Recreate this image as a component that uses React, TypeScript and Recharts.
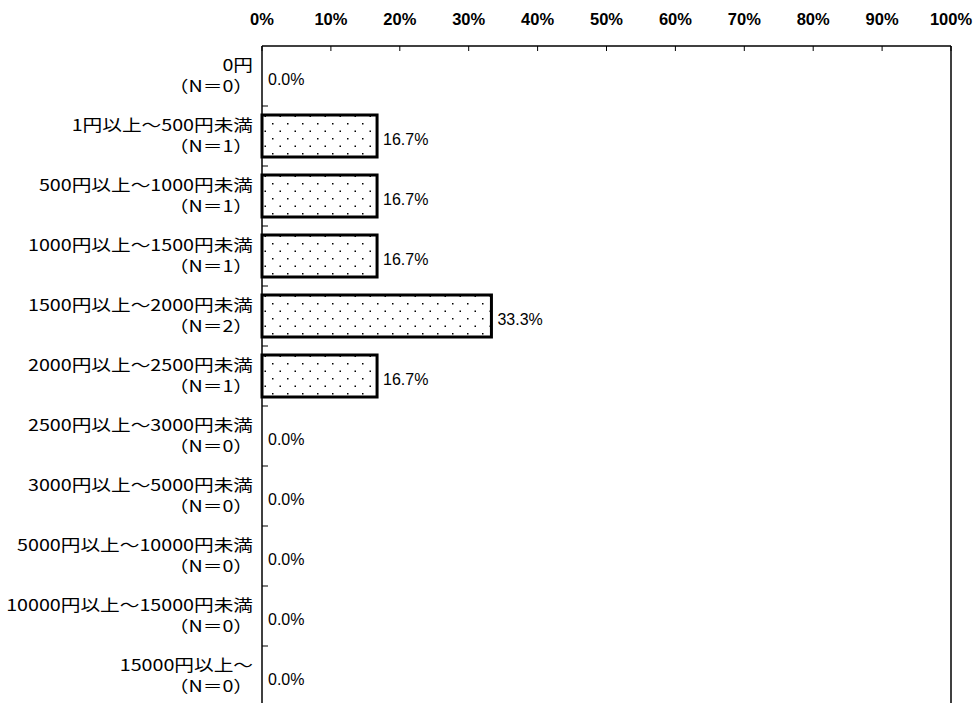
import { ComposedChart, Bar, Line, XAxis, YAxis, LabelList, ReferenceLine } from 'recharts';

// 금액대 카테고리 / 응답자 수 / 비율(%)
const CATEGORIES = [
  '0円',
  '1円以上～500円未満',
  '500円以上～1000円未満',
  '1000円以上～1500円未満',
  '1500円以上～2000円未満',
  '2000円以上～2500円未満',
  '2500円以上～3000円未満',
  '3000円以上～5000円未満',
  '5000円以上～10000円未満',
  '10000円以上～15000円未満',
  '15000円以上～',
];
const COUNTS = [0, 1, 1, 1, 2, 1, 0, 0, 0, 0, 0];
const SHARES = [0.0, 16.7, 16.7, 16.7, 33.3, 16.7, 0.0, 0.0, 0.0, 0.0, 0.0];
const X_TICKS = [0, 10, 20, 30, 40, 50, 60, 70, 80, 90, 100];

const data = CATEGORIES.map((name, i) => ({
  name,
  n: COUNTS[i],
  value: SHARES[i],
}));

const JP_FONT = '"Noto Sans CJK JP", "Noto Sans", sans-serif';
const NUM_FONT = '"Liberation Sans Narrow", "Liberation Sans", Arial, sans-serif';

// 2행 라벨 (이름 / (N＝x)) + 카테고리 경계 눈금
function CategoryTick(props: any) {
  const { x, y, payload, index } = props;
  const row = data[index] ?? data.find((d) => d.name === payload.value);
  return (
    <g>
      <g transform={`translate(${x},${y - 5}) scale(1.23,1)`}>
        <text x={0} y={0} textAnchor="end" fontFamily={JP_FONT} fontSize={16} fill="#000">
          {payload.value}
        </text>
      </g>
      <g transform={`translate(${x},${y + 16}) scale(1.23,1)`}>
        <text x={0} y={0} textAnchor="end" fontFamily={JP_FONT} fontSize={16} fill="#000">
          {`（N＝${row ? row.n : 0}）`}
        </text>
      </g>
      <line x1={x + 9} x2={x + 15} y1={y + 30} y2={y + 30} stroke="#000" strokeWidth={1} />
    </g>
  );
}

export default function App() {
  return (
    <div style={{ position: 'absolute', left: 0, top: 0, width: 974, height: 703, overflow: 'hidden', background: '#fff' }}>
      <ComposedChart
        width={974}
        height={706}
        data={data}
        layout="vertical"
        margin={{ top: 0, right: 23, bottom: 0, left: 0 }}
        barSize={42}
      >
        <defs>
          <pattern id="dots" width={15} height={15} patternUnits="userSpaceOnUse">
            <rect width={15} height={15} fill="#fff" />
            <rect x={2} y={3} width={1.5} height={1.5} fill="#000" />
            <rect x={9.5} y={10.5} width={1.5} height={1.5} fill="#000" />
          </pattern>
        </defs>
        <XAxis
          type="number"
          orientation="top"
          domain={[0, 100]}
          ticks={X_TICKS}
          interval={0}
          height={46}
          tickSize={-5}
          tickMargin={26}
          tickFormatter={(v: number) => `${v}%`}
          axisLine={{ stroke: '#000', strokeWidth: 1.5 }}
          tickLine={{ stroke: '#000' }}
          tick={{ fill: '#000', fontSize: 16.5, fontWeight: 'bold', fontFamily: NUM_FONT }}
        />
        <YAxis
          type="category"
          dataKey="name"
          width={262}
          interval={0}
          tickSize={0}
          tickMargin={9}
          tickLine={false}
          axisLine={{ stroke: '#000', strokeWidth: 1.5 }}
          tick={<CategoryTick />}
        />
        <ReferenceLine x={100} stroke="#000" strokeWidth={1.5} />
        <Bar
          dataKey="value"
          fill="url(#dots)"
          stroke="#000"
          strokeWidth={3}
          isAnimationActive={false}
        />
        {/* 0% 항목도 라벨이 보이도록 투명 라인에 라벨을 붙임 */}
        <Line
          dataKey="value"
          stroke="none"
          dot={false}
          activeDot={false}
          isAnimationActive={false}
        >
          <LabelList
            dataKey="value"
            position="right"
            offset={6}
            dy={3}
            formatter={(v: number) => `${Number(v).toFixed(1)}%`}
            style={{ fill: '#000', fontSize: 16, fontWeight: 'normal', fontFamily: NUM_FONT }}
          />
        </Line>
      </ComposedChart>
    </div>
  );
}
